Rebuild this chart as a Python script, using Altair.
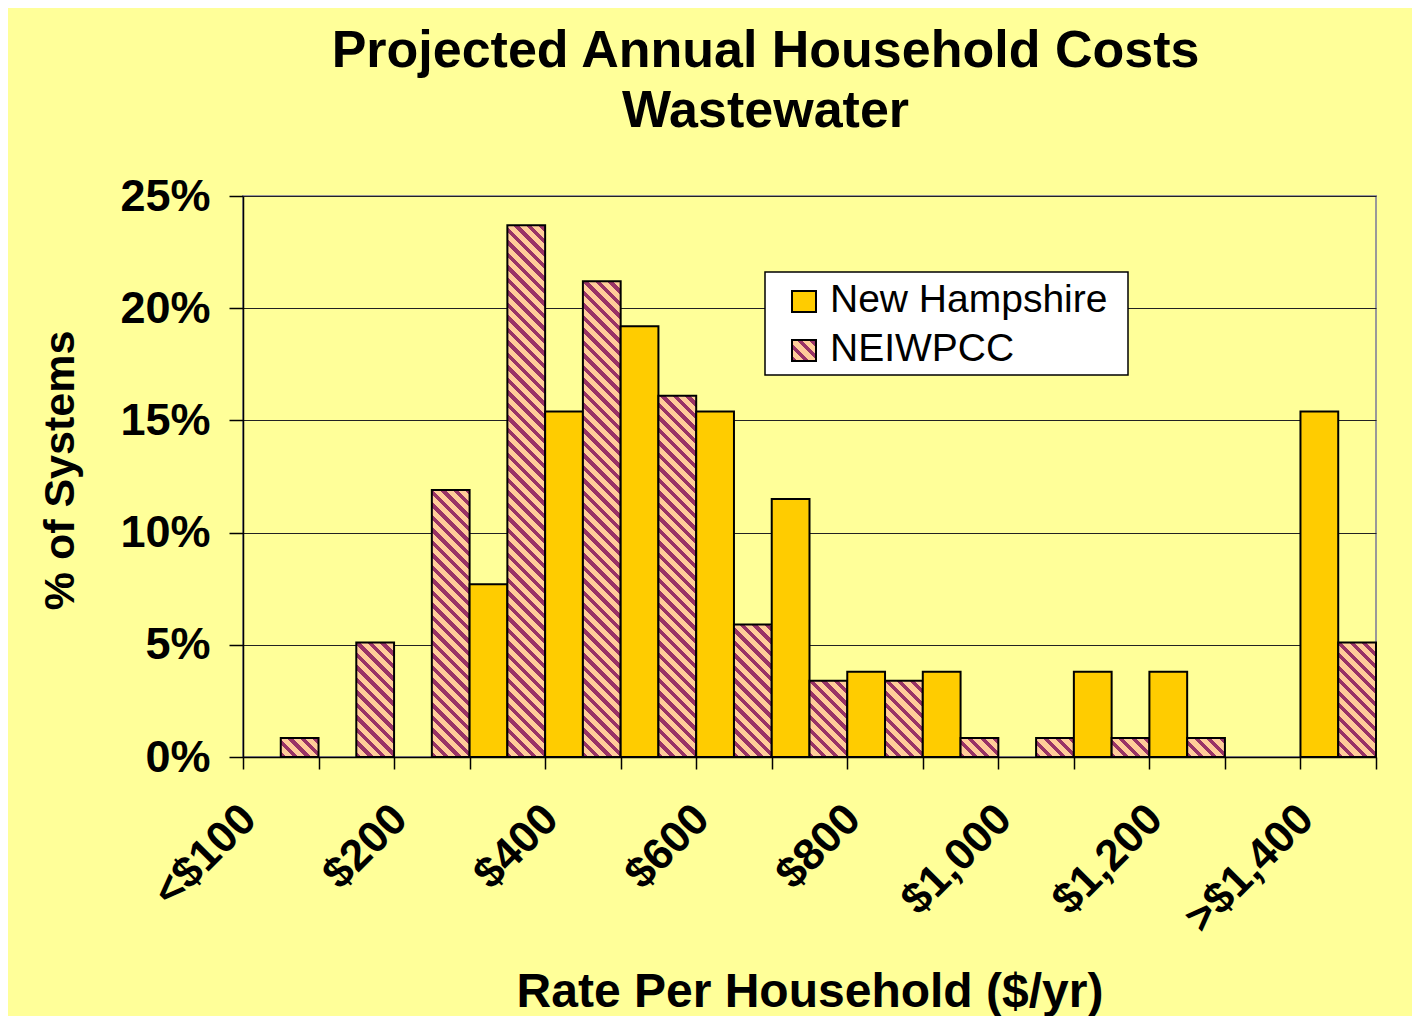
import json
import altair as alt

# ---------------- data ----------------
categories = ["<$100", "$100", "$200", "$300", "$400", "$500", "$600", "$700",
              "$800", "$900", "$1,000", "$1,100", "$1,200", "$1,300", ">$1,400"]
shown_labels = ["<$100", "$200", "$400", "$600", "$800", "$1,000", "$1,200", ">$1,400"]
series = ["New Hampshire", "NEIWPCC"]
nh_values = [0, 0, 0, 7.7, 15.4, 19.2, 15.4, 11.5, 3.8, 3.8, 0, 3.8, 3.8, 0, 15.4]
neiwpcc_values = [0.85, 5.1, 11.9, 23.7, 21.2, 16.1, 5.9, 3.4, 3.4, 0.85, 0.85, 0.85, 0.85, 0, 5.1]
y_ticks = [0, 5, 10, 15, 20, 25]

title_lines = ["Projected Annual Household Costs", "Wastewater"]
x_title = "Rate Per Household ($/yr)"
y_title = "% of Systems"

# ---------------- style ----------------
FONT = "Liberation Sans, Arial, sans-serif"
BG = "#FFFF99"
GOLD = "#FFCC00"
MAROON = "#993366"
PEACH = "#FFCC99"
PLOT_W, PLOT_H = 1133, 561
Y_MAX = 25
BAR_W = PLOT_W / len(categories) / 2
PERIOD = 12.5   # hatch period (px, horizontal)
FRAC = 0.42     # share of dark stripe


def hatch(w, h):
    """Diagonal '\\' hatch as a bounding-box linear gradient for a w x h rect."""
    L = w + h
    k = L / (w * w + h * h)
    step = PERIOD / L
    stops = []
    i = 0
    while i * step < 1:
        a = round(i * step, 5)
        b = round(min(i * step + FRAC * step, 1), 5)
        c = round(min((i + 1) * step, 1), 5)
        stops += [{"offset": a, "color": MAROON}, {"offset": b, "color": MAROON},
                  {"offset": b, "color": PEACH}, {"offset": c, "color": PEACH}]
        i += 1
    return {"gradient": "linear", "x1": 0, "y1": 1,
            "x2": round(k * w, 6), "y2": round(1 - k * h, 6), "stops": stops}


records = []
for i, cat in enumerate(categories):
    for s, vals in zip(series, [nh_values, neiwpcc_values]):
        v = vals[i]
        h = max(v, 0.01) / Y_MAX * PLOT_H
        fill = GOLD if s == series[0] else hatch(BAR_W, h)
        records.append({"category": cat, "series": s, "value": v, "fill": fill})

data = alt.Data(values=records)

label_expr = ("indexof(" + json.dumps(shown_labels) +
              ", datum.value) >= 0 ? datum.label : ''")

x_axis = alt.Axis(
    labelExpr=label_expr, labelAngle=315, labelAlign="right", labelBaseline="middle",
    labelFont=FONT, labelFontSize=44, labelFontWeight="bold", labelColor="black",
    labelPadding=43, labelOffset=-32, labelOverlap=False, labelBound=False,
    tickBand="extent", tickSize=12, tickColor="black", tickWidth=1.5,
    domainColor="black", domainWidth=1.5, grid=False,
    titleFont=FONT, titleFontSize=48, titleFontWeight="bold", titleColor="black",
    titleBaseline="alphabetic", titleY=249,
)

y_axis = alt.Axis(
    values=y_ticks, labelExpr="datum.value + '%'",
    labelFont=FONT, labelFontSize=45, labelFontWeight="bold", labelColor="black",
    labelPadding=19, tickSize=14, tickColor="black", tickWidth=1.5,
    domainColor="black", domainWidth=1.5,
    grid=True, gridColor="#222222", gridWidth=1,
    titleFont=FONT, titleFontSize=43, titleFontWeight="bold", titleColor="black",
    titleAngle=270, titleBaseline="alphabetic", titleAlign="center",
    titleX=-170, titleY=274,
)

bars = alt.Chart(data).transform_filter("datum.value > 0").mark_bar(
    stroke="black", strokeWidth=2
).encode(
    x=alt.X("category:N", sort=categories,
            scale=alt.Scale(domain=categories, paddingInner=0, paddingOuter=0),
            axis=x_axis, title=x_title),
    xOffset=alt.XOffset("series:N",
                        scale=alt.Scale(domain=series, paddingInner=0, paddingOuter=0)),
    y=alt.Y("value:Q", scale=alt.Scale(domain=[0, Y_MAX], nice=False),
            axis=y_axis, title=y_title),
    fill=alt.Fill("fill:N", scale=None),
)

# ---------------- legend (drawn inside the plot) ----------------
one = alt.Data(values=[{"k": 0}])
legend_box = alt.Chart(one).mark_rect(fill="white", stroke="black", strokeWidth=1.5).encode(
    x=alt.value(522), x2=alt.value(885), y=alt.value(76), y2=alt.value(179))
sym_nh = alt.Chart(one).mark_rect(fill=GOLD, stroke="black", strokeWidth=2).encode(
    x=alt.value(549), x2=alt.value(573), y=alt.value(95), y2=alt.value(116))
sym_ne = alt.Chart(one).mark_rect(stroke="black", strokeWidth=2).encode(
    x=alt.value(549), x2=alt.value(573), y=alt.value(144), y2=alt.value(165),
    fill=alt.value(hatch(24, 21)))
txt_nh = alt.Chart(one).mark_text(
    text=series[0], align="left", baseline="alphabetic", font=FONT, fontSize=39, color="black"
).encode(x=alt.value(587), y=alt.value(116))
txt_ne = alt.Chart(one).mark_text(
    text=series[1], align="left", baseline="alphabetic", font=FONT, fontSize=39, color="black"
).encode(x=alt.value(587), y=alt.value(165))

chart = alt.layer(bars, legend_box, sym_nh, sym_ne, txt_nh, txt_ne).properties(
    width=PLOT_W, height=PLOT_H,
    title=alt.TitleParams(text=title_lines, font=FONT, fontSize=52, fontWeight="bold",
                          color="black", anchor="middle", frame="group", dx=-44,
                          offset=36, lineHeight=60),
    autosize=alt.AutoSizeParams(type="none"),
    padding={"left": 235, "top": 188, "right": 36, "bottom": 259},
    background=BG,
).configure_view(stroke="#999999", strokeWidth=2)

chart.save("out.html", embed_options={"renderer": "svg", "actions": False})
